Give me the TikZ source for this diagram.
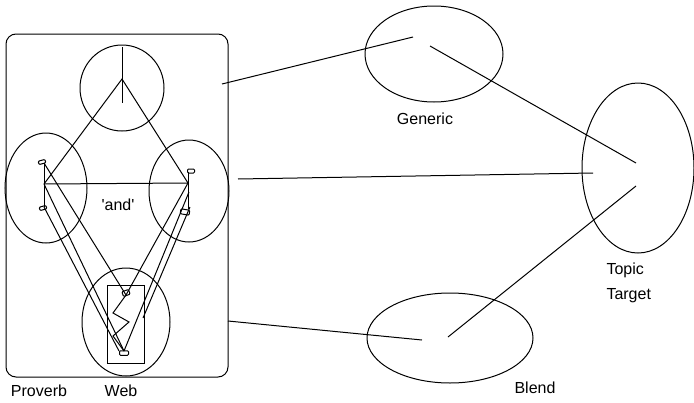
\documentclass[tikz,border=0pt]{standalone}
\usepackage{fontspec}
\setmainfont{Liberation Sans}
\usetikzlibrary{shapes.geometric}
\begin{document}
\begin{tikzpicture}[x=1pt,y=-1pt,line width=1pt,
  oval/.style={draw,ellipse,inner sep=0pt},
  lbl/.style={font=\fontsize{16}{19}\selectfont,inner sep=0pt},
  blob/.style={draw,rounded corners=1pt,line width=1pt,inner sep=0pt}]
\useasboundingbox (0,0) rectangle (694,402);
% frame
\node[draw,rounded corners=10pt,minimum width=222pt,minimum height=343pt,inner sep=0pt] (frame) at (117,205.5) {};
% inner circles
\node[oval,minimum width=84pt,minimum height=86pt] (topc) at (122,88) {};
\node[oval,minimum width=82pt,minimum height=110pt] (leftc) at (46,188) {};
\node[oval,minimum width=80pt,minimum height=102pt] (rightc) at (189,191) {};
\node[oval,minimum width=88pt,minimum height=108pt] (botc) at (126,322) {};
\node[draw,minimum width=37pt,minimum height=78pt,inner sep=0pt] (web) at (125.5,324) {};
% outer ellipses
\node[oval,minimum width=138pt,minimum height=96pt] (gen) at (434,54) {};
\node[oval,minimum width=112pt,minimum height=170pt] (top) at (638,168) {};
\node[oval,minimum width=166pt,minimum height=90pt] (blend) at (450,338) {};
% coordinates
\coordinate (vt) at (122,47);
\coordinate (vb) at (122,103);
\coordinate (apex) at (122,79);
\coordinate (lj) at (44,184);
\coordinate (lt) at (44,163);
\coordinate (lb) at (44,207);
\coordinate (rj) at (188,183);
\coordinate (rt) at (188,172);
\coordinate (rb) at (188,209);
\coordinate (r1) at (189,192);
\coordinate (r2) at (190,207);
\coordinate (r2e) at (143,318);
\coordinate (wt) at (126,295);
\coordinate (wb) at (124,351);
\coordinate (wb2) at (119,351);
\coordinate (z1) at (113,313);
\coordinate (z2) at (129,322);
\coordinate (z3) at (113,336);
% inner lines
\draw (vt) -- (vb);
\draw (lj) -- (apex) -- (rj);
\draw (lj) -- (rj);
\draw (lt) -- (lb);
\draw (rt) -- (rb);
\draw (lt) -- (wt);
\draw (lj) -- (wb);
\draw (lb) -- (wb2);
\draw (rj) -- (wt);
\draw (r1) -- (wb);
\draw (r2) -- (r2e);
\draw (wt) -- (z1) -- (z2) -- (z3) -- (wb);
% blobs
\node[blob,minimum width=7pt,minimum height=3.5pt,rotate=15] (b1) at (42,162) {};
\node[blob,minimum width=7pt,minimum height=3.5pt,rotate=15] (b2) at (43,208) {};
\node[blob,minimum width=7pt,minimum height=4pt] (b3) at (191,171) {};
\node[blob,minimum width=9pt,minimum height=5pt,rotate=-10] (b4) at (185,212) {};
\node[blob,minimum width=7pt,minimum height=5pt,rotate=20] (b5) at (126,293) {};
\node[blob,minimum width=9pt,minimum height=4.5pt] (b6) at (124,353) {};
% connectors to outer spaces
\coordinate (s1) at (222,84);
\coordinate (e1) at (413,37);
\coordinate (s2) at (238,179);
\coordinate (e2) at (593,173);
\coordinate (s3) at (228,321);
\coordinate (e3) at (422,340);
\draw (s1) -- (e1);
\draw (s2) -- (e2);
\draw (s3) -- (e3);
\coordinate (g1) at (430,46);
\coordinate (t1) at (636,163);
\coordinate (t2) at (636,186);
\coordinate (bl1) at (448,337);
\draw (g1) -- (t1);
\draw (t2) -- (bl1);
% labels
\node[lbl] (andl) at (118,205) {\textquotesingle and\textquotesingle};
\node[lbl] (genl) at (425,119) {Generic};
\node[lbl,anchor=west] (topl) at (606,270) {Topic};
\node[lbl,anchor=west] (targ) at (606,296) {Target};
\node[lbl] (blendl) at (535,388) {Blend};
\node[lbl] (prov) at (39,391) {Proverb};
\node[lbl] (webl) at (121,391) {Web};
\end{tikzpicture}
\end{document}
